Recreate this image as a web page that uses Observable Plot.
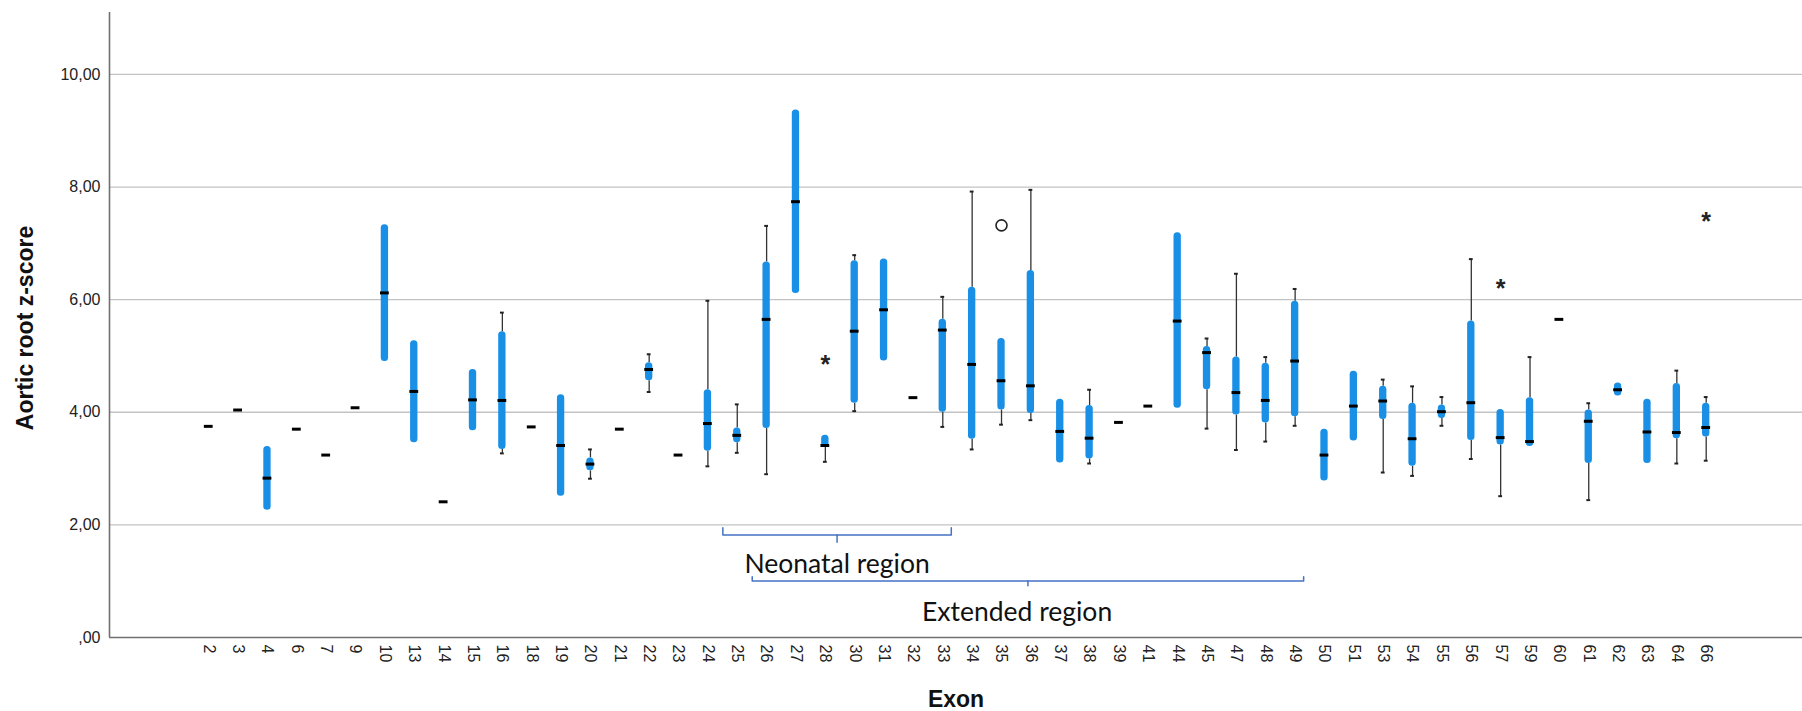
<!DOCTYPE html>
<html><head><meta charset="utf-8">
<script src="https://cdn.jsdelivr.net/npm/d3@7"></script>
<script src="https://cdn.jsdelivr.net/npm/@observablehq/plot@0.6"></script>
<style>body{margin:0;background:#fff}</style>
</head><body><div id="chart"></div>
<script>
// ---- data ----
const exons = ["2","3","4","6","7","9","10","13","14","15","16","18","19","20","21","22","23","24","25","26","27","28","30","31","32","33","34","35","36","37","38","39","41","44","45","47","48","49","50","51","53","54","55","56","57","59","60","61","62","63","64","66"];
const whiskerLow  = [null,null,null,null,null,null,null,null,null,null,3.27,null,null,2.82,null,4.36,null,3.04,3.28,2.90,null,3.12,4.02,null,null,3.74,3.34,3.78,3.86,null,3.09,null,null,null,3.71,3.33,3.48,3.76,null,null,2.93,2.87,3.76,3.17,2.51,null,null,2.44,null,null,3.09,3.14];
const boxLow      = [null,null,2.26,null,null,null,4.90,3.46,null,3.67,3.34,null,2.51,2.96,null,4.56,null,3.31,3.46,3.71,6.11,3.38,4.16,4.91,null,4.00,3.52,4.04,3.98,3.10,3.17,null,null,4.07,4.40,3.95,3.81,3.92,2.78,3.49,3.87,3.04,3.89,3.50,3.42,3.39,null,3.09,4.29,3.09,3.53,3.56];
const median      = [3.75,4.04,2.83,3.70,3.24,4.08,6.12,4.37,2.41,4.22,4.21,3.74,3.41,3.08,3.70,4.76,3.24,3.80,3.59,5.65,7.74,3.41,5.44,5.82,4.26,5.46,4.85,4.56,4.47,3.66,3.54,3.82,4.11,5.62,5.06,4.35,4.21,4.91,3.24,4.11,4.20,3.53,4.01,4.17,3.55,3.48,5.65,3.84,4.40,3.65,3.64,3.73];
const boxHigh     = [null,null,3.39,null,null,null,7.33,5.27,null,4.76,5.43,null,4.31,3.19,null,4.88,null,4.40,3.72,6.67,9.37,3.59,6.69,6.72,null,5.65,6.22,5.31,6.52,4.23,4.12,null,null,7.19,5.17,4.98,4.87,5.97,3.70,4.73,4.46,4.16,4.13,5.62,4.05,4.26,null,4.04,4.52,4.23,4.51,4.16];
const whiskerHigh = [null,null,null,null,null,null,null,null,null,null,5.77,null,null,3.34,null,5.03,null,5.98,4.14,7.31,null,null,6.79,null,null,6.05,7.92,null,7.95,null,4.40,null,null,null,5.31,6.46,4.98,6.19,null,null,4.58,4.46,4.27,6.72,null,4.98,null,4.16,null,null,4.74,4.27];
const outlierExon  = ["35"];
const outlierValue = [7.32];
const extremeExon  = ["28","57","66"];
const extremeValue = [4.95,6.30,7.49];
const yTicks = [0,2,4,6,8,10];
const regionLabel = ["Neonatal region","Extended region"];
const regionFrom  = ["25","26"];
const regionTo    = ["33","49"];

// ---- derived tables ----
const idx = e => exons.indexOf(e);
const rows = exons.map((e,i)=>({i, exon:e, lo:whiskerLow[i], q1:boxLow[i], med:median[i], q3:boxHigh[i], hi:whiskerHigh[i]}));
const boxes = rows.filter(d=>d.q1!=null);
const lowW = rows.filter(d=>d.lo!=null);
const highW = rows.filter(d=>d.hi!=null);
const outliers = outlierExon.map((e,k)=>({i:idx(e), v:outlierValue[k]}));
const extremes = extremeExon.map((e,k)=>({i:idx(e), v:extremeValue[k]}));

// bracket levels (in y units) for the two region annotations
const levels = [{bar:1.82, end:1.95, tip:1.69, text:1.15, shift:0},{bar:1.005, end:1.08, tip:0.92, text:0.30, shift:-0.37}];
const brackets = regionLabel.map((lab,k)=>{
  const x0 = idx(regionFrom[k]) - 0.49, x1 = idx(regionTo[k]) + 0.29;
  return {lab, x0, x1, xm:(x0+x1)/2, xt:(x0+x1)/2 + levels[k].shift, ...levels[k]};
});
const bracketPts = brackets.flatMap((b,k)=>[
  {z:"b"+k, x:b.x0, y:b.end},{z:"b"+k, x:b.x0, y:b.bar},{z:"b"+k, x:b.x1, y:b.bar},{z:"b"+k, x:b.x1, y:b.end},
  {z:"t"+k, x:b.xm, y:b.bar},{z:"t"+k, x:b.xm, y:b.tip}
]);

const n = exons.length;
const fmt = d => d === 0 ? ",00" : d.toFixed(2).replace(".", ",");
const blue = "#1a8fe6";

const chart = Plot.plot({
  width: 1802, height: 711,
  marginLeft: 109, marginRight: 0, marginTop: 12, marginBottom: 74,
  style: {fontFamily: "'Liberation Sans', Arial, sans-serif", fontSize: "16px", color: "#222", background: "#fff"},
  x: {type: "linear", domain: [-3.38, n - 1 + 3.28], axis: null},
  y: {domain: [0, 11.1], axis: null},
  marks: [
    Plot.gridY(yTicks.filter(d=>d>0), {stroke: "#c3c3c3", strokeOpacity: 1, strokeWidth: 1.3}),
    Plot.axisY({ticks: yTicks, tickSize: 0, tickPadding: 9, tickFormat: fmt, label: null, fontSize: 16}),
    Plot.axisX({ticks: d3.range(n), tickFormat: i => exons[i], tickRotate: 90, tickSize: 0, tickPadding: 7, label: null, fontSize: 16}),
    Plot.ruleY([0], {stroke: "#707070", strokeWidth: 1.6}),
    Plot.ruleX([-3.38], {stroke: "#707070", strokeWidth: 1.6}),
    // whiskers
    Plot.ruleX(lowW, {x: "i", y1: "lo", y2: "q1", stroke: "#333", strokeWidth: 1.3}),
    Plot.ruleX(highW, {x: "i", y1: "q3", y2: "hi", stroke: "#333", strokeWidth: 1.3}),
    Plot.ruleY(lowW, {x1: d=>d.i-0.065, x2: d=>d.i+0.065, y: "lo", stroke: "#222", strokeWidth: 2}),
    Plot.ruleY(highW, {x1: d=>d.i-0.065, x2: d=>d.i+0.065, y: "hi", stroke: "#222", strokeWidth: 2}),
    // boxes
    Plot.rect(boxes, {x1: d=>d.i-0.125, x2: d=>d.i+0.125, y1: "q1", y2: "q3", fill: blue, rx: 3.5}),
    // medians
    Plot.ruleY(rows, {x1: d=>d.i-0.15, x2: d=>d.i+0.15, y: "med", stroke: "#000", strokeWidth: 3}),
    // outliers
    Plot.dot(outliers, {x: "i", y: "v", r: 5.5, stroke: "#222", strokeWidth: 1.6, fill: "none"}),
    Plot.text(extremes, {x: "i", y: "v", text: () => "*", fontSize: 25, fontWeight: "bold", fill: "#222", dy: 6}),
    // region brackets
    Plot.line(bracketPts, {x: "x", y: "y", z: "z", stroke: "#4472c4", strokeWidth: 1.5, curve: "linear"}),
    Plot.text(brackets, {x: "xt", y: "text", text: "lab", lineAnchor: "bottom", fontSize: 26.5, fontFamily: "Lato, 'Open Sans', sans-serif", fill: "#111"}),
    // axis titles
    Plot.text(["Aortic root z-score"], {frameAnchor: "left", textAnchor: "middle", dx: -84, dy: 3, rotate: -90, fontSize: 23, fontWeight: "bold", fill: "#111"}),
    Plot.text(["Exon"], {frameAnchor: "bottom", textAnchor: "middle", dy: 69, lineAnchor: "bottom", fontSize: 23, fontWeight: "bold", fill: "#111"})
  ]
});
document.getElementById("chart").append(chart);
</script>
</body></html>
